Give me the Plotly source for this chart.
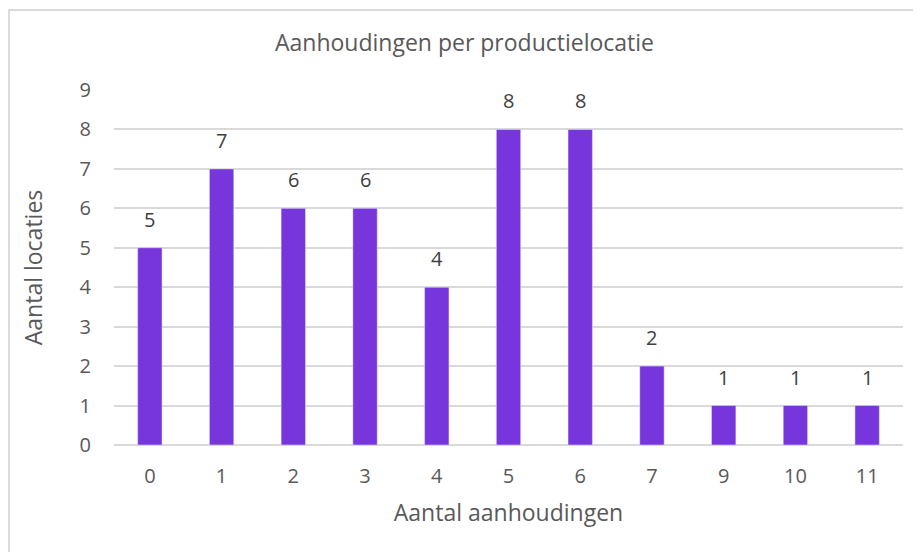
import plotly.graph_objects as go

# Data
aanhoudingen = ['0', '1', '2', '3', '4', '5', '6', '7', '9', '10', '11']
aantal_locaties = [5, 7, 6, 6, 4, 8, 8, 2, 1, 1, 1]

fig = go.Figure()

fig.add_trace(go.Bar(
    x=aanhoudingen,
    y=aantal_locaties,
    marker_color='#7636DC',
    width=0.34,
    hoverinfo='x+y',
))

# waardelabels boven de staven (x als categorie-index, anders wordt '9' als getal gelezen)
for i, val in enumerate(aantal_locaties):
    fig.add_annotation(x=i, y=val, text=str(val), showarrow=False,
                       yanchor='bottom', yshift=13,
                       font=dict(size=20, color='#404040'))

# pagina heeft 8px body-marge, daarom compenseren
OFF = 8
L, R, T, B = 114, 18, 90, 107
W, H = 921, 552
pw, ph = W - L - R, H - T - B

# randje rond de grafiek (loopt rechts en onder buiten beeld door)
fig.add_shape(
    type='rect', xref='paper', yref='paper',
    x0=(9 - L) / pw, x1=(930 - L) / pw,
    y0=(H - B - 570) / ph, y1=(H - B - 10) / ph,
    line=dict(color='#D0D0D0', width=1.5),
    fillcolor='rgba(0,0,0,0)',
)

fig.update_layout(
    width=W - OFF, height=H - OFF,
    margin=dict(l=L - OFF, r=R, t=T - OFF, b=B),
    paper_bgcolor='white',
    plot_bgcolor='white',
    font=dict(family='Open Sans, Roboto, sans-serif', color='#595959'),
    title=dict(text='Aanhoudingen per productielocatie', x=0.5, xanchor='center',
               y=1 - (43 - OFF) / (H - OFF), yanchor='middle',
               font=dict(size=23, color='#595959')),
    showlegend=False,
    xaxis=dict(
        type='category',
        title=dict(text='Aantal aanhoudingen', font=dict(size=23), standoff=16),
        tickfont=dict(size=20),
        showgrid=False,
        showline=False,
        ticks='',
        ticklabelstandoff=17,
    ),
    yaxis=dict(
        title=dict(text='Aantal locaties', font=dict(size=23), standoff=30),
        range=[0, 9],
        dtick=1,
        tickfont=dict(size=20),
        gridcolor='#D9D9D9',
        gridwidth=1.5,
        zeroline=True,
        zerolinecolor='#D9D9D9',
        zerolinewidth=1.5,
        ticklabelstandoff=22,
    ),
)

fig.write_html('out.html')
